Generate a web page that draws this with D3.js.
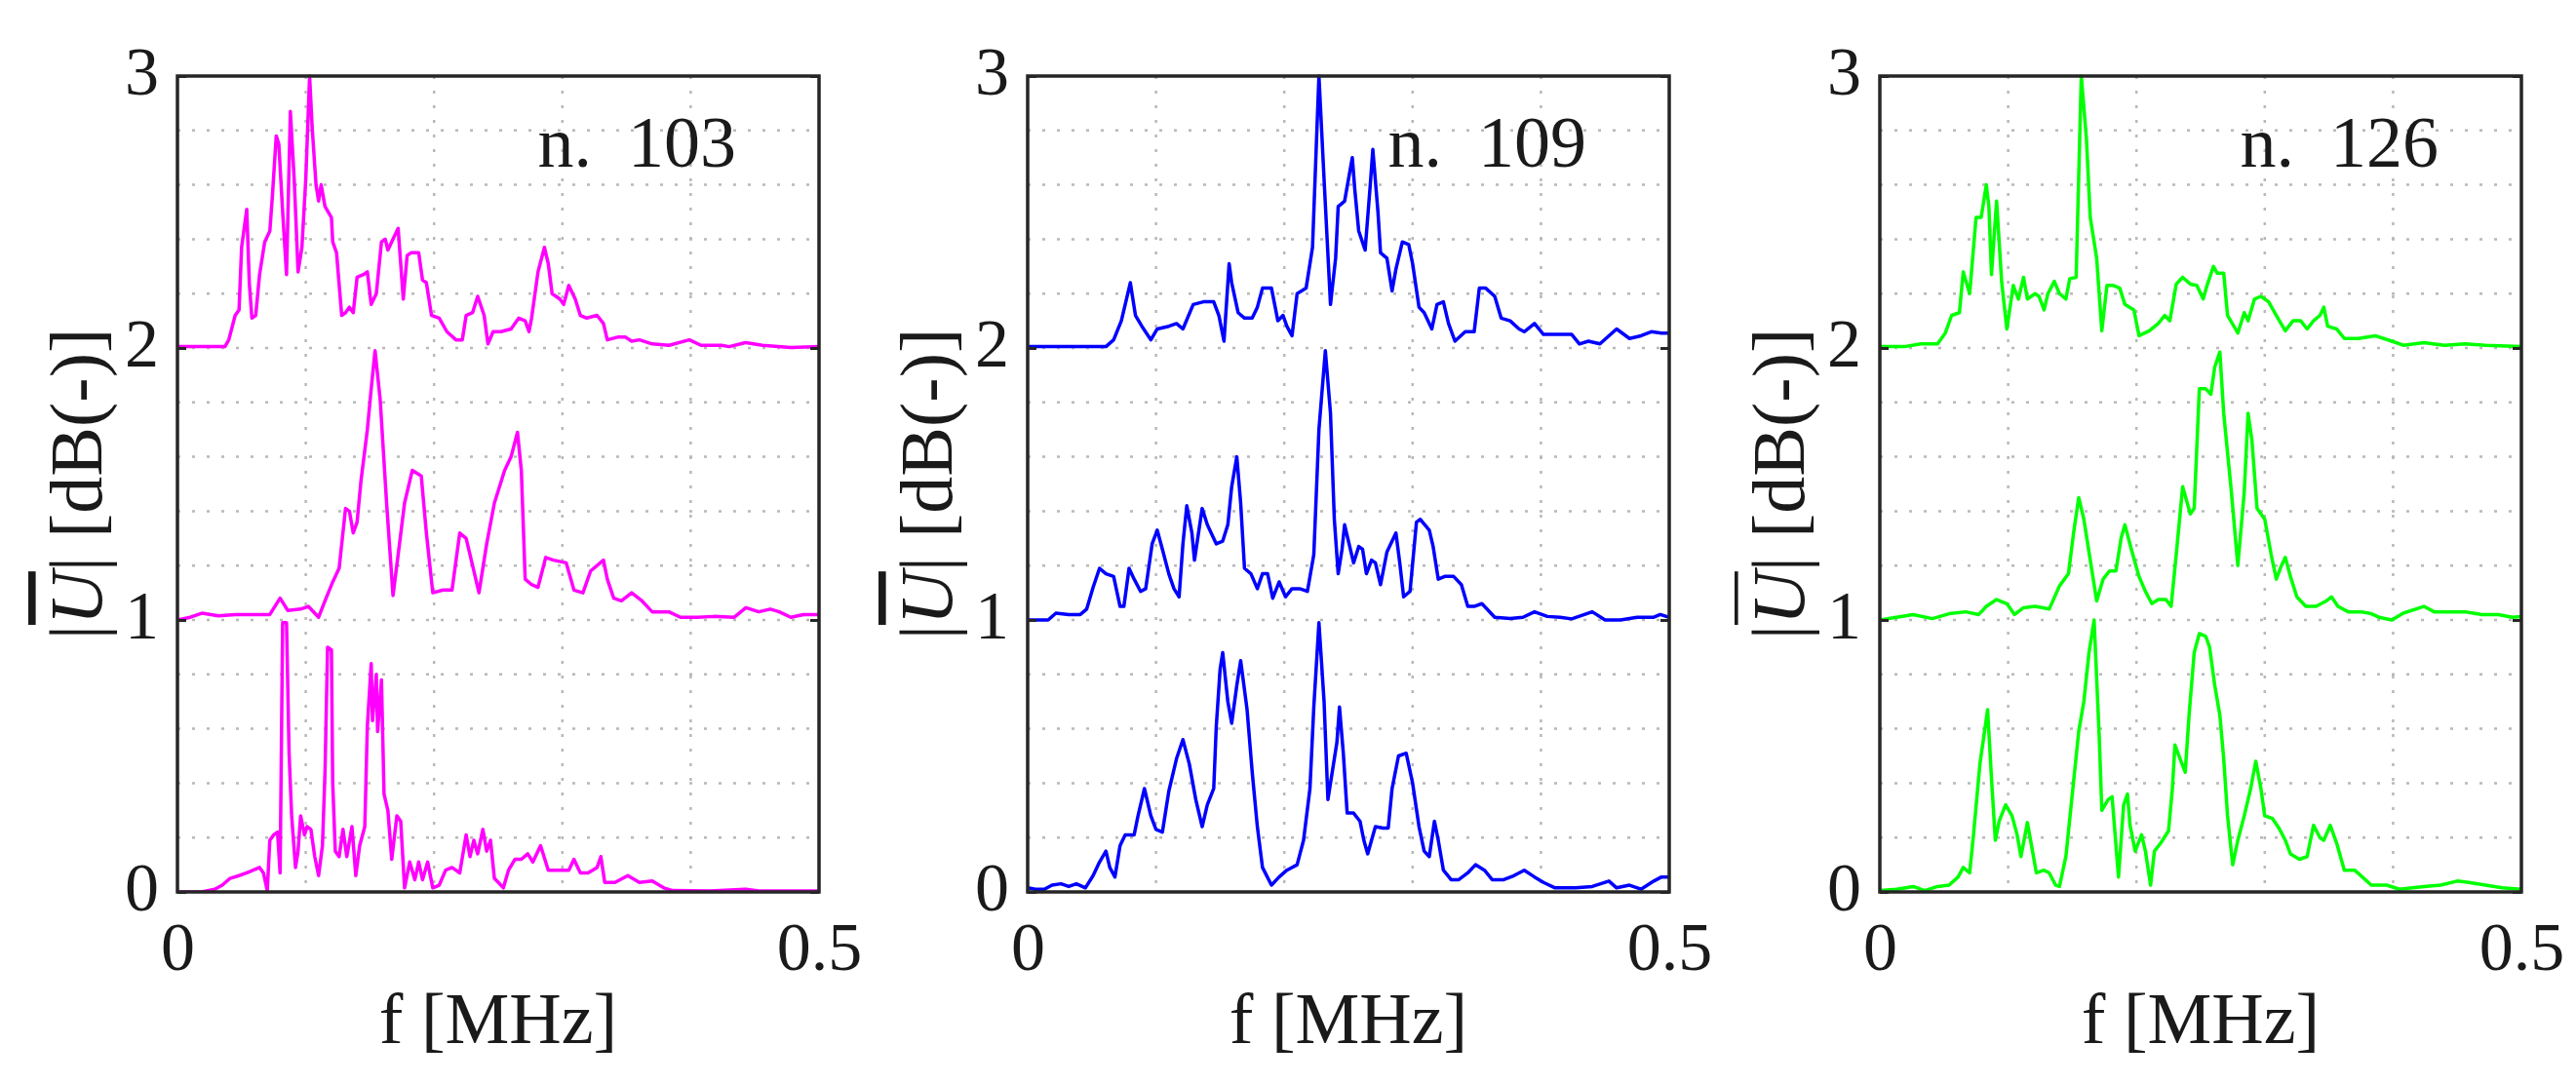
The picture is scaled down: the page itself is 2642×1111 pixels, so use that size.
<!DOCTYPE html>
<html>
<head>
<meta charset="utf-8">
<script src="https://cdn.jsdelivr.net/npm/d3@7"></script>
<style>
  body { margin: 0; background: #fff; }
  svg text { font-family: "Liberation Serif", "DejaVu Serif", serif; fill: #1a1a1a; }
</style>
</head>
<body>
<script>
var svg_width  = 2642;
var svg_height = 1111;

//DATA: each trace is [f in MHz, normalized |U|]
//trace k is drawn shifted up by k (0 = bottom, 2 = top)

// n. 103 (magenta)
var n103_bottom = [[0.000,0],[0.019,0],[0.029,0.01],[0.035,0.025],[0.041,0.05],[0.048,0.06],[0.054,0.07],[0.059,0.08],[0.064,0.09],[0.067,0.07],[0.070,0.005],[0.072,0.19],[0.075,0.21],[0.078,0.22],[0.080,0.07],[0.082,0.99],[0.085,0.99],[0.087,0.51],[0.089,0.28],[0.092,0.09],[0.094,0.15],[0.096,0.28],[0.099,0.21],[0.101,0.24],[0.104,0.23],[0.107,0.13],[0.110,0.06],[0.113,0.17],[0.115,0.44],[0.117,0.90],[0.120,0.89],[0.121,0.40],[0.123,0.15],[0.126,0.13],[0.129,0.23],[0.132,0.13],[0.136,0.24],[0.139,0.06],[0.142,0.17],[0.146,0.24],[0.148,0.61],[0.151,0.84],[0.152,0.63],[0.155,0.80],[0.156,0.59],[0.159,0.78],[0.161,0.36],[0.164,0.30],[0.167,0.12],[0.171,0.28],[0.174,0.26],[0.177,0.015],[0.181,0.11],[0.185,0.045],[0.188,0.11],[0.191,0.045],[0.195,0.11],[0.199,0.015],[0.204,0.025],[0.209,0.08],[0.214,0.09],[0.220,0.07],[0.225,0.21],[0.228,0.13],[0.231,0.19],[0.234,0.14],[0.238,0.23],[0.241,0.15],[0.244,0.19],[0.247,0.05],[0.254,0.015],[0.258,0.08],[0.263,0.12],[0.268,0.12],[0.273,0.14],[0.277,0.11],[0.283,0.17],[0.289,0.08],[0.297,0.08],[0.305,0.08],[0.309,0.12],[0.314,0.07],[0.320,0.07],[0.327,0.09],[0.330,0.13],[0.333,0.035],[0.341,0.035],[0.351,0.06],[0.360,0.035],[0.370,0.04],[0.379,0.015],[0.386,0.005],[0.415,0.004],[0.443,0.01],[0.453,0.004],[0.500,0.004]];
var n103_middle = [[0.000,0],[0.010,0.01],[0.019,0.025],[0.032,0.015],[0.045,0.02],[0.057,0.02],[0.072,0.02],[0.080,0.08],[0.086,0.035],[0.096,0.04],[0.102,0.05],[0.110,0.01],[0.115,0.07],[0.121,0.14],[0.126,0.19],[0.131,0.41],[0.134,0.40],[0.137,0.32],[0.140,0.36],[0.143,0.51],[0.148,0.70],[0.151,0.85],[0.154,0.99],[0.158,0.81],[0.163,0.43],[0.168,0.09],[0.172,0.24],[0.177,0.43],[0.183,0.55],[0.190,0.53],[0.194,0.32],[0.199,0.10],[0.207,0.11],[0.214,0.11],[0.220,0.32],[0.225,0.30],[0.230,0.20],[0.235,0.10],[0.241,0.28],[0.247,0.43],[0.255,0.55],[0.260,0.60],[0.265,0.69],[0.268,0.55],[0.271,0.15],[0.276,0.13],[0.281,0.12],[0.287,0.23],[0.293,0.22],[0.303,0.21],[0.309,0.11],[0.316,0.10],[0.322,0.18],[0.332,0.22],[0.335,0.15],[0.340,0.08],[0.346,0.07],[0.354,0.10],[0.362,0.07],[0.370,0.03],[0.383,0.03],[0.392,0.01],[0.405,0.01],[0.418,0.013],[0.434,0.01],[0.443,0.045],[0.453,0.03],[0.462,0.04],[0.469,0.03],[0.478,0.01],[0.488,0.02],[0.500,0.02]];
var n103_top = [[0.000,0.005],[0.037,0.005],[0.040,0.03],[0.045,0.12],[0.048,0.14],[0.050,0.37],[0.054,0.51],[0.056,0.24],[0.058,0.11],[0.061,0.12],[0.064,0.27],[0.068,0.39],[0.072,0.43],[0.074,0.56],[0.077,0.78],[0.079,0.75],[0.082,0.50],[0.085,0.27],[0.088,0.87],[0.091,0.62],[0.094,0.28],[0.097,0.37],[0.100,0.62],[0.103,1.0],[0.105,0.81],[0.108,0.60],[0.110,0.54],[0.112,0.60],[0.115,0.52],[0.120,0.48],[0.121,0.39],[0.124,0.35],[0.128,0.12],[0.131,0.13],[0.134,0.15],[0.137,0.13],[0.140,0.26],[0.145,0.27],[0.148,0.28],[0.151,0.16],[0.155,0.20],[0.159,0.39],[0.162,0.40],[0.164,0.36],[0.169,0.41],[0.172,0.44],[0.176,0.18],[0.179,0.34],[0.182,0.35],[0.188,0.35],[0.191,0.25],[0.194,0.24],[0.198,0.12],[0.204,0.11],[0.210,0.06],[0.217,0.03],[0.222,0.03],[0.225,0.12],[0.230,0.13],[0.234,0.19],[0.239,0.12],[0.242,0.015],[0.246,0.06],[0.252,0.06],[0.260,0.07],[0.266,0.11],[0.271,0.10],[0.274,0.06],[0.276,0.11],[0.281,0.28],[0.286,0.37],[0.289,0.31],[0.292,0.20],[0.298,0.18],[0.301,0.16],[0.305,0.23],[0.310,0.18],[0.314,0.12],[0.319,0.11],[0.327,0.12],[0.332,0.09],[0.335,0.03],[0.343,0.04],[0.349,0.04],[0.354,0.025],[0.360,0.03],[0.370,0.015],[0.383,0.01],[0.399,0.03],[0.408,0.01],[0.424,0.01],[0.430,0.005],[0.443,0.02],[0.456,0.01],[0.478,0.002],[0.500,0.005]];

// n. 109 (blue)
var n109_bottom = [[0.000,0.015],[0.006,0.01],[0.013,0.01],[0.019,0.025],[0.026,0.03],[0.032,0.02],[0.038,0.03],[0.045,0.015],[0.051,0.06],[0.056,0.11],[0.061,0.15],[0.064,0.09],[0.068,0.055],[0.072,0.17],[0.076,0.21],[0.083,0.21],[0.086,0.28],[0.091,0.38],[0.096,0.28],[0.100,0.23],[0.105,0.22],[0.110,0.37],[0.116,0.49],[0.121,0.56],[0.126,0.47],[0.131,0.34],[0.136,0.24],[0.140,0.32],[0.145,0.38],[0.147,0.61],[0.150,0.82],[0.152,0.88],[0.156,0.70],[0.159,0.62],[0.163,0.76],[0.166,0.85],[0.171,0.67],[0.175,0.44],[0.179,0.24],[0.183,0.09],[0.190,0.025],[0.196,0.055],[0.202,0.08],[0.210,0.10],[0.215,0.19],[0.220,0.38],[0.223,0.68],[0.227,0.99],[0.231,0.70],[0.234,0.34],[0.238,0.46],[0.241,0.55],[0.243,0.68],[0.246,0.51],[0.249,0.29],[0.254,0.29],[0.259,0.26],[0.262,0.19],[0.265,0.14],[0.271,0.24],[0.277,0.235],[0.281,0.235],[0.284,0.38],[0.289,0.50],[0.295,0.51],[0.300,0.40],[0.305,0.24],[0.309,0.15],[0.313,0.13],[0.317,0.26],[0.320,0.19],[0.324,0.08],[0.330,0.045],[0.336,0.045],[0.343,0.07],[0.349,0.10],[0.356,0.08],[0.362,0.045],[0.371,0.045],[0.379,0.06],[0.387,0.08],[0.395,0.055],[0.402,0.035],[0.411,0.015],[0.427,0.015],[0.440,0.02],[0.453,0.04],[0.459,0.015],[0.469,0.025],[0.478,0.01],[0.488,0.04],[0.494,0.055],[0.500,0.055]];
var n109_middle = [[0.000,0],[0.016,0],[0.022,0.025],[0.032,0.02],[0.041,0.02],[0.046,0.04],[0.051,0.12],[0.056,0.19],[0.061,0.17],[0.067,0.16],[0.072,0.05],[0.075,0.05],[0.079,0.19],[0.083,0.15],[0.088,0.105],[0.092,0.115],[0.097,0.28],[0.101,0.33],[0.105,0.26],[0.110,0.17],[0.114,0.115],[0.118,0.085],[0.121,0.28],[0.124,0.42],[0.128,0.32],[0.130,0.22],[0.136,0.41],[0.140,0.35],[0.147,0.28],[0.152,0.29],[0.156,0.35],[0.159,0.49],[0.163,0.60],[0.166,0.43],[0.169,0.19],[0.174,0.17],[0.179,0.115],[0.183,0.17],[0.187,0.17],[0.191,0.08],[0.196,0.14],[0.201,0.085],[0.206,0.115],[0.212,0.115],[0.218,0.105],[0.223,0.24],[0.227,0.70],[0.232,0.99],[0.236,0.76],[0.239,0.37],[0.242,0.17],[0.245,0.26],[0.247,0.35],[0.250,0.29],[0.254,0.21],[0.258,0.27],[0.261,0.26],[0.264,0.17],[0.268,0.22],[0.271,0.21],[0.275,0.13],[0.280,0.25],[0.287,0.32],[0.290,0.21],[0.293,0.085],[0.298,0.105],[0.303,0.36],[0.306,0.37],[0.313,0.33],[0.316,0.27],[0.320,0.15],[0.325,0.16],[0.332,0.16],[0.338,0.13],[0.343,0.05],[0.348,0.05],[0.354,0.06],[0.364,0.01],[0.376,0.005],[0.386,0.01],[0.395,0.03],[0.405,0.013],[0.415,0.01],[0.424,0.004],[0.440,0.03],[0.450,0],[0.462,0],[0.475,0.01],[0.488,0.01],[0.493,0.02],[0.500,0.01]];
var n109_top = [[0.000,0.005],[0.032,0.005],[0.061,0.005],[0.067,0.03],[0.073,0.10],[0.077,0.18],[0.080,0.24],[0.084,0.12],[0.089,0.08],[0.096,0.03],[0.101,0.07],[0.110,0.08],[0.116,0.09],[0.121,0.07],[0.129,0.16],[0.137,0.17],[0.145,0.17],[0.149,0.12],[0.153,0.025],[0.157,0.31],[0.159,0.24],[0.164,0.13],[0.169,0.11],[0.175,0.11],[0.179,0.15],[0.183,0.22],[0.190,0.22],[0.195,0.10],[0.199,0.12],[0.202,0.08],[0.206,0.045],[0.210,0.20],[0.217,0.22],[0.222,0.37],[0.225,0.75],[0.227,1.0],[0.231,0.62],[0.236,0.16],[0.240,0.33],[0.242,0.52],[0.247,0.54],[0.253,0.70],[0.255,0.58],[0.258,0.43],[0.263,0.36],[0.267,0.60],[0.269,0.73],[0.273,0.50],[0.275,0.35],[0.280,0.33],[0.284,0.21],[0.287,0.29],[0.292,0.39],[0.297,0.38],[0.300,0.31],[0.305,0.15],[0.309,0.13],[0.315,0.07],[0.319,0.16],[0.324,0.17],[0.328,0.09],[0.333,0.025],[0.341,0.06],[0.348,0.06],[0.352,0.22],[0.357,0.22],[0.364,0.19],[0.369,0.11],[0.376,0.10],[0.383,0.07],[0.387,0.06],[0.395,0.09],[0.402,0.05],[0.411,0.05],[0.424,0.05],[0.430,0.015],[0.437,0.025],[0.446,0.015],[0.453,0.045],[0.459,0.07],[0.469,0.035],[0.478,0.045],[0.486,0.06],[0.494,0.055],[0.500,0.055]];

// n. 126 (green)
var n126_bottom = [[0.000,0.005],[0.013,0.01],[0.026,0.02],[0.035,0.005],[0.045,0.02],[0.054,0.025],[0.061,0.055],[0.065,0.09],[0.070,0.07],[0.073,0.21],[0.078,0.47],[0.084,0.67],[0.087,0.42],[0.090,0.19],[0.093,0.26],[0.098,0.32],[0.103,0.28],[0.107,0.21],[0.110,0.13],[0.115,0.255],[0.119,0.15],[0.122,0.07],[0.128,0.08],[0.132,0.07],[0.137,0.025],[0.140,0.02],[0.145,0.13],[0.150,0.36],[0.155,0.59],[0.159,0.70],[0.163,0.88],[0.167,1.0],[0.171,0.57],[0.173,0.30],[0.178,0.34],[0.181,0.35],[0.186,0.055],[0.190,0.32],[0.193,0.36],[0.195,0.245],[0.199,0.15],[0.204,0.21],[0.207,0.15],[0.211,0.025],[0.214,0.15],[0.219,0.18],[0.225,0.225],[0.228,0.38],[0.230,0.54],[0.234,0.49],[0.238,0.44],[0.241,0.65],[0.245,0.88],[0.249,0.95],[0.254,0.94],[0.257,0.90],[0.261,0.76],[0.265,0.65],[0.268,0.49],[0.271,0.28],[0.275,0.10],[0.279,0.19],[0.284,0.28],[0.289,0.38],[0.293,0.48],[0.297,0.38],[0.300,0.28],[0.306,0.27],[0.311,0.235],[0.316,0.19],[0.320,0.14],[0.327,0.12],[0.333,0.13],[0.338,0.245],[0.343,0.20],[0.346,0.19],[0.351,0.245],[0.356,0.18],[0.362,0.08],[0.370,0.08],[0.376,0.055],[0.383,0.025],[0.395,0.025],[0.405,0.01],[0.415,0.015],[0.424,0.02],[0.437,0.025],[0.450,0.04],[0.459,0.035],[0.472,0.025],[0.485,0.015],[0.500,0.01]];
var n126_middle = [[0.000,0],[0.013,0.01],[0.026,0.02],[0.041,0.005],[0.054,0.023],[0.067,0.03],[0.077,0.02],[0.083,0.05],[0.091,0.075],[0.099,0.06],[0.105,0.02],[0.112,0.045],[0.121,0.05],[0.132,0.04],[0.140,0.125],[0.147,0.17],[0.151,0.32],[0.155,0.45],[0.159,0.37],[0.164,0.22],[0.169,0.07],[0.174,0.15],[0.179,0.18],[0.184,0.18],[0.188,0.30],[0.191,0.35],[0.196,0.26],[0.202,0.16],[0.207,0.105],[0.212,0.06],[0.217,0.075],[0.223,0.075],[0.227,0.05],[0.231,0.24],[0.236,0.49],[0.242,0.39],[0.245,0.41],[0.249,0.85],[0.254,0.85],[0.258,0.83],[0.261,0.93],[0.265,0.985],[0.268,0.76],[0.274,0.47],[0.279,0.20],[0.284,0.47],[0.287,0.76],[0.290,0.66],[0.294,0.41],[0.300,0.37],[0.305,0.24],[0.309,0.15],[0.313,0.20],[0.316,0.23],[0.320,0.16],[0.325,0.085],[0.332,0.05],[0.340,0.05],[0.348,0.07],[0.352,0.085],[0.357,0.05],[0.365,0.03],[0.375,0.03],[0.383,0.023],[0.389,0.01],[0.399,0],[0.408,0.025],[0.424,0.05],[0.432,0.03],[0.443,0.03],[0.456,0.03],[0.469,0.02],[0.482,0.02],[0.493,0.01],[0.500,0.013]];
var n126_top = [[0.000,0.005],[0.019,0.005],[0.032,0.015],[0.045,0.015],[0.051,0.055],[0.056,0.12],[0.062,0.13],[0.065,0.28],[0.070,0.20],[0.075,0.48],[0.079,0.48],[0.083,0.60],[0.085,0.52],[0.087,0.27],[0.091,0.54],[0.095,0.24],[0.099,0.07],[0.104,0.23],[0.108,0.18],[0.112,0.26],[0.115,0.18],[0.121,0.20],[0.124,0.19],[0.128,0.14],[0.131,0.20],[0.136,0.245],[0.140,0.20],[0.145,0.18],[0.148,0.255],[0.153,0.26],[0.157,1.0],[0.161,0.77],[0.164,0.48],[0.169,0.33],[0.173,0.063],[0.177,0.23],[0.182,0.23],[0.187,0.22],[0.191,0.16],[0.198,0.14],[0.202,0.045],[0.210,0.063],[0.217,0.09],[0.222,0.12],[0.226,0.10],[0.231,0.235],[0.236,0.26],[0.242,0.235],[0.247,0.23],[0.252,0.18],[0.255,0.23],[0.260,0.30],[0.263,0.275],[0.268,0.275],[0.271,0.12],[0.279,0.055],[0.284,0.13],[0.287,0.10],[0.292,0.18],[0.297,0.19],[0.303,0.17],[0.309,0.12],[0.316,0.063],[0.322,0.10],[0.328,0.10],[0.333,0.07],[0.338,0.10],[0.343,0.12],[0.346,0.15],[0.349,0.08],[0.356,0.07],[0.362,0.035],[0.373,0.035],[0.386,0.045],[0.399,0.025],[0.408,0.01],[0.424,0.02],[0.440,0.01],[0.456,0.015],[0.472,0.01],[0.500,0.005]];

var x_ticks = [0, 0.5];
var x_tick_labels = ["0", "0.5"];
var y_ticks = [0, 1, 2, 3];
var titles = ["n.\u00a0\u00a0103", "n.\u00a0\u00a0109", "n.\u00a0\u00a0126"];

//panel layout (pixels)
var plot_top = 78;
var plot_w = 658;
var plot_h = 837;
var panels = [
    {left: 182,  color: "#ff00ff", title: titles[0], traces: [n103_bottom, n103_middle, n103_top]},
    {left: 1054, color: "#0000ff", title: titles[1], traces: [n109_bottom, n109_middle, n109_top]},
    {left: 1928, color: "#00ff00", title: titles[2], traces: [n126_bottom, n126_middle, n126_top]}
];

var svg = d3.select('body').append('svg')
            .attr('width', svg_width)
            .attr('height', svg_height);

panels.forEach(function(p, pi) {

    var x = d3.scaleLinear().domain([0, 0.5]).range([p.left, p.left + plot_w]);
    var y = d3.scaleLinear().domain([0, 3]).range([plot_top + plot_h, plot_top]);

    var g = svg.append("g").attr("class", "panel");

    g.append("clipPath").attr("id", "clip" + pi)
      .append("rect")
        .attr("x", p.left).attr("y", plot_top - 2)
        .attr("width", plot_w).attr("height", plot_h + 2);

    //dotted grid
    var xg = d3.range(1, 5).map(d => d / 10);
    var yg = d3.range(1, 15).map(d => d / 5);
    g.append("g").selectAll("line.gx")
        .data(xg).enter().append("line")
        .attr("x1", d => x(d)).attr("x2", d => x(d))
        .attr("y1", plot_top).attr("y2", plot_top + plot_h)
        .attr("stroke", "#b8b8b8").attr("stroke-width", 2.5)
        .attr("stroke-dasharray", "3,12");
    g.append("g").selectAll("line.gy")
        .data(yg).enter().append("line")
        .attr("x1", p.left).attr("x2", p.left + plot_w)
        .attr("y1", d => y(d)).attr("y2", d => y(d))
        .attr("stroke", "#b8b8b8").attr("stroke-width", 2.5)
        .attr("stroke-dasharray", "3,12");

    //traces, shifted by 0/1/2
    var line = d3.line()
        .x(d => x(d[0]));
    g.append("g").attr("clip-path", "url(#clip" + pi + ")")
      .selectAll("path")
      .data(p.traces).enter().append("path")
        .attr("d", function(t, k) { return line.y(d => y(d[1] + k))(t); })
        .attr("fill", "none")
        .attr("stroke", p.color)
        .attr("stroke-width", 3.5)
        .attr("stroke-linejoin", "round");

    //axes: ticks inside on both sides
    var yAxis = g.append("g")
        .attr("transform", "translate(" + p.left + ",0)")
        .call(d3.axisLeft(y).tickValues(y_ticks).tickFormat(d3.format("d"))
                .tickSizeInner(-9).tickSizeOuter(0).tickPadding(19));
    var yAxisR = g.append("g")
        .attr("transform", "translate(" + (p.left + plot_w) + ",0)")
        .call(d3.axisRight(y).tickValues(y_ticks).tickSizeInner(-9).tickSizeOuter(0).tickFormat(""));
    var xAxis = g.append("g")
        .attr("transform", "translate(0," + (plot_top + plot_h) + ")")
        .call(d3.axisBottom(x).tickValues(x_ticks).tickSize(0).tickPadding(30)
                .tickFormat((d, i) => x_tick_labels[i]));
    [yAxis, yAxisR, xAxis].forEach(function(a) {
        a.select(".domain").remove();
        a.selectAll("line").attr("stroke", "#262626").attr("stroke-width", 3);
        a.selectAll("text").attr("font-size", 70).attr("fill", "#1a1a1a")
            .attr("font-family", "Liberation Serif, DejaVu Serif, serif");
    });
    //labels sit a little above the tick, like the original
    yAxis.selectAll("text").attr("dy", "0.26em");

    //frame
    g.append("rect")
        .attr("x", p.left).attr("y", plot_top)
        .attr("width", plot_w).attr("height", plot_h)
        .attr("fill", "none")
        .attr("stroke", "#262626")
        .attr("stroke-width", 3.5);

    //title
    g.append("text")
        .attr("x", p.left + plot_w - 85)
        .attr("y", plot_top + 93)
        .attr("text-anchor", "end")
        .attr("font-size", 74)
        .text(p.title);

    //axis labels
    g.append("text")
        .attr("x", p.left + plot_w / 2)
        .attr("y", 1070)
        .attr("text-anchor", "middle")
        .attr("font-size", 74)
        .text("f [MHz]");

    var yl = g.append("text")
        .attr("transform", "translate(" + (p.left - 104) + "," + (plot_top + plot_h / 2) + ") rotate(-90)")
        .attr("text-anchor", "middle")
        .attr("dominant-baseline", "central")
        .attr("font-size", 76);
    yl.append("tspan").text("|");
    yl.append("tspan").attr("font-style", "italic")
        .style("text-decoration", "overline").text("U");
    yl.append("tspan").text("| [dB(-)]");
});
</script>
</body>
</html>
